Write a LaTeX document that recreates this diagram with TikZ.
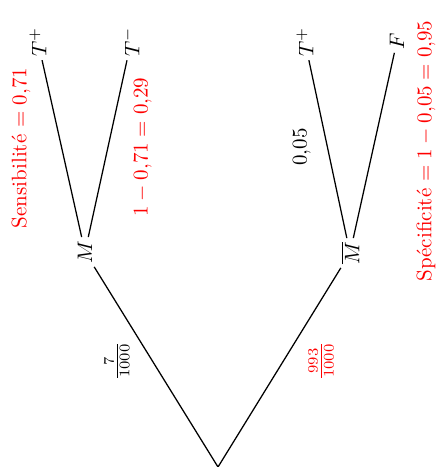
\documentclass[tikz,border=0pt]{standalone}
\usepackage{amsmath}
\begin{document}
\begin{tikzpicture}[x=0.476pt,y=-0.476pt,
  state/.style={rotate=90,inner sep=1.5pt},
  branch/.style={semithick},
  prob/.style={rotate=90,inner sep=0pt},
  hl/.style={prob,text=red}]
\useasboundingbox (0,0) rectangle (435,467);
\fill[white] (0,0) rectangle (435,467);

% tree, growing upwards
\coordinate (root) at (218,467);
\node[state] (M)   at (85,252)  {$M$};
\node[state] (Mb)  at (350,253) {$\overline{M}$};
\node[state] (MTp) at (38,42)   {$T^{+}$};
\node[state] (MTm) at (131,42)  {$T^{-}$};
\node[state] (NTp) at (305,42)  {$T^{+}$};
\node[state] (NF)  at (397,41)  {$F$};

\draw[branch] (root) -- (M);
\draw[branch] (root) -- (Mb);
\draw[branch] (M) -- (MTp);
\draw[branch] (M) -- (MTm);
\draw[branch] (Mb) -- (NTp);
\draw[branch] (Mb) -- (NF);

% branch probabilities
\node[prob] (pM)  at (117,361) {$\frac{7}{1000}$};
\node[hl]   (pMb) at (321,361) {$\frac{993}{1000}$};
\node[hl]   (sens) at (21,148) {Sensibilité $=0{,}71$};
\node[hl]   (nsens) at (143,147) {$1-0{,}71=0{,}29$};
\node[prob] (fp)  at (302,147) {$0{,}05$};
\node[hl]   (spec) at (426,151) {Spécificité $=1-0{,}05=0{,}95$};
\end{tikzpicture}
\end{document}
